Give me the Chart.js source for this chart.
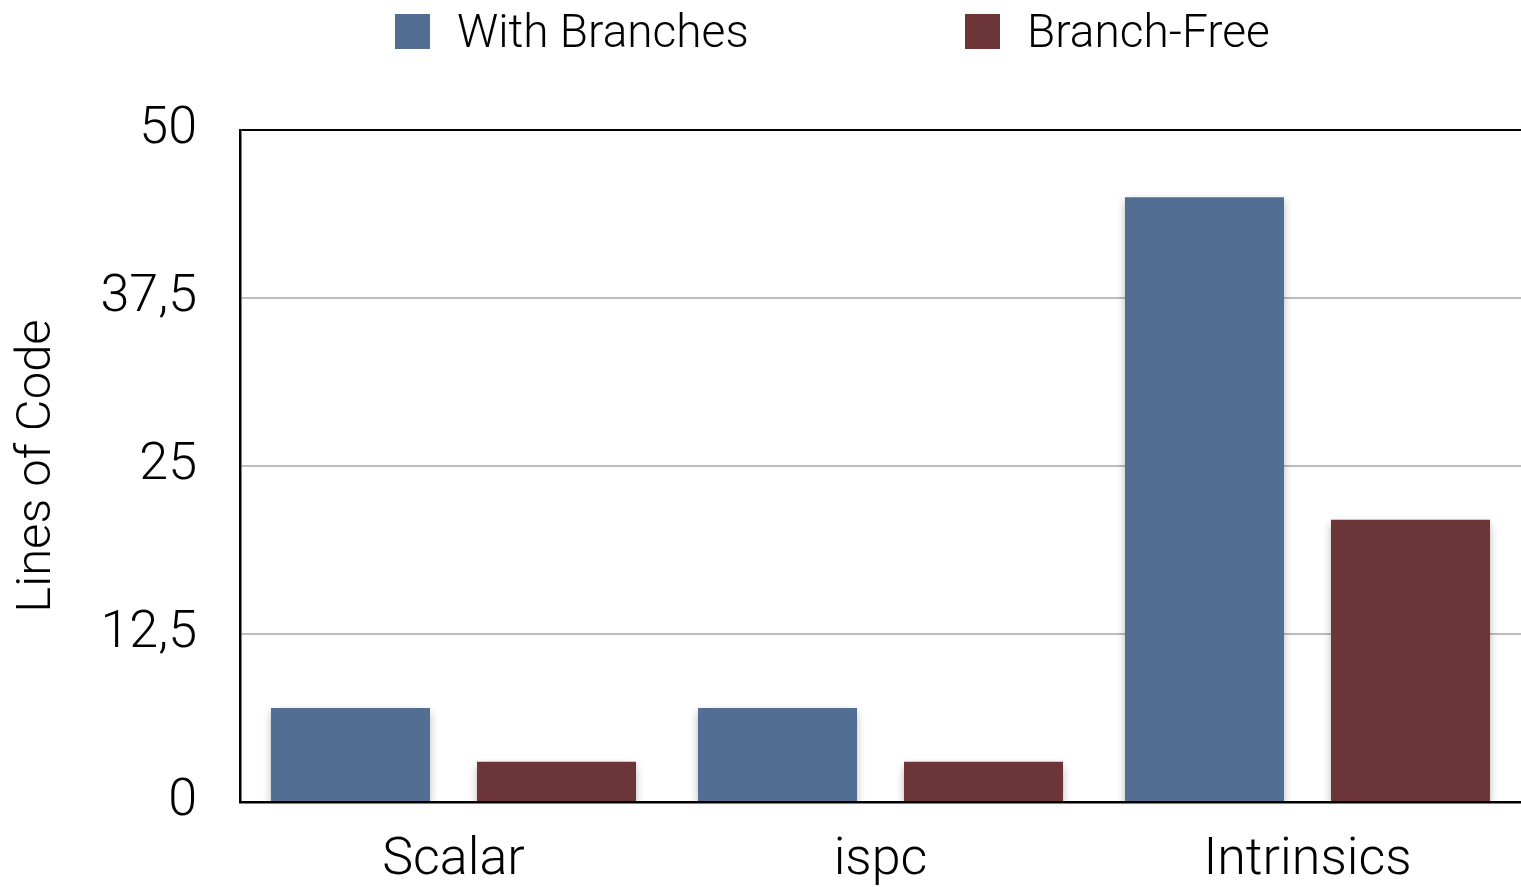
<!DOCTYPE html>
<html>
<head>
<meta charset="utf-8">
<script src="https://cdn.jsdelivr.net/npm/chart.js@4/dist/chart.umd.min.js"></script>
<style>
  html, body { margin: 0; padding: 0; background: #fff; }
  #wrap { position: relative; width: 1521px; height: 887px; }
  #myChart { position: absolute; left: 0; top: 0; }
  #legend { position: absolute; left: 0; top: 0; width: 1521px; height: 60px;
            font-family: Roboto, 'Liberation Sans', sans-serif; font-weight: 300; font-size: 46px; color: #000; }
  .item { position: absolute; top: 6px; height: 50px; display: flex; align-items: center; white-space: nowrap; }
  .swatch { width: 35px; height: 35px; margin-right: 27px; }
</style>
</head>
<body>
<div id="wrap">
  <canvas id="myChart" width="1521" height="887"></canvas>
  <div id="legend"></div>
</div>
<script>
    const categories = ['Scalar', 'ispc', 'Intrinsics'];
    const withBranches = [7, 7, 45];
    const branchFree = [3, 3, 21];
    const seriesNames = ['With Branches', 'Branch-Free'];
    const seriesColors = ['#526f93', '#6c3538'];
    const yTicks = [0, 12.5, 25, 37.5, 50];

    const fontFamily = 'Roboto, "Liberation Sans", sans-serif';

    // soft drop shadow under the bars
    const barShadow = {
        id: 'barShadow',
        beforeDatasetsDraw(chart) {
            const ctx = chart.ctx;
            ctx.save();
            ctx.shadowColor = 'rgba(0,0,0,0.3)';
            ctx.shadowBlur = 9;
            ctx.shadowOffsetY = 4;
        },
        afterDatasetsDraw(chart) {
            chart.ctx.restore();
        }
    };

    function buildLegend() {
        const legend = document.getElementById('legend');
        const lefts = [395, 965];
        seriesNames.forEach((name, i) => {
            const item = document.createElement('div');
            item.className = 'item';
            item.style.left = lefts[i] + 'px';
            const sw = document.createElement('div');
            sw.className = 'swatch';
            sw.style.background = seriesColors[i];
            item.appendChild(sw);
            item.appendChild(document.createTextNode(name));
            legend.appendChild(item);
        });
    }

    var ctx = document.getElementById('myChart').getContext('2d');
    var myChart = new Chart(ctx, {
        type: 'bar',
        data: {
            labels: categories,
            datasets: [{
                label: seriesNames[0],
                data: withBranches,
                backgroundColor: seriesColors[0],
                categoryPercentage: 0.965,
                barPercentage: 0.772
            }, {
                label: seriesNames[1],
                data: branchFree,
                backgroundColor: seriesColors[1],
                categoryPercentage: 0.965,
                barPercentage: 0.772
            }]
        },
        options: {
            responsive: false,
            animation: false,
            layout: { padding: { top: 130, right: 0, bottom: 0, left: 8 } },
            plugins: {
                legend: { display: false },
                tooltip: { enabled: false }
            },
            scales: {
                x: {
                    afterFit: function(scale) { scale.height = 85; },
                    grid: { display: false, drawTicks: false },
                    border: { color: '#000', width: 2.5 },
                    ticks: {
                        color: '#000',
                        padding: 28,
                        font: { family: fontFamily, size: 52, weight: 300 }
                    }
                },
                y: {
                    min: 0,
                    max: 50,
                    afterFit: function(scale) { scale.width = 232; },
                    afterBuildTicks: function(axis) {
                        axis.ticks = yTicks.map(v => ({ value: v }));
                    },
                    grid: {
                        drawTicks: false,
                        lineWidth: 2,
                        color: function(c) {
                            return (c.tick && c.tick.value === 50) ? '#000' : '#bdbdbd';
                        }
                    },
                    border: { color: '#000', width: 2.5 },
                    title: {
                        display: true,
                        text: 'Lines of Code',
                        color: '#000',
                        padding: { top: 0, bottom: 30 },
                        font: { family: fontFamily, size: 49, weight: 300 }
                    },
                    ticks: {
                        color: '#000',
                        padding: 43,
                        font: { family: fontFamily, size: 52, weight: 300 },
                        callback: function(value) {
                            return String(value).replace('.', ',');
                        }
                    }
                }
            }
        },
        plugins: [barShadow]
    });

    buildLegend();
</script>
</body>
</html>
